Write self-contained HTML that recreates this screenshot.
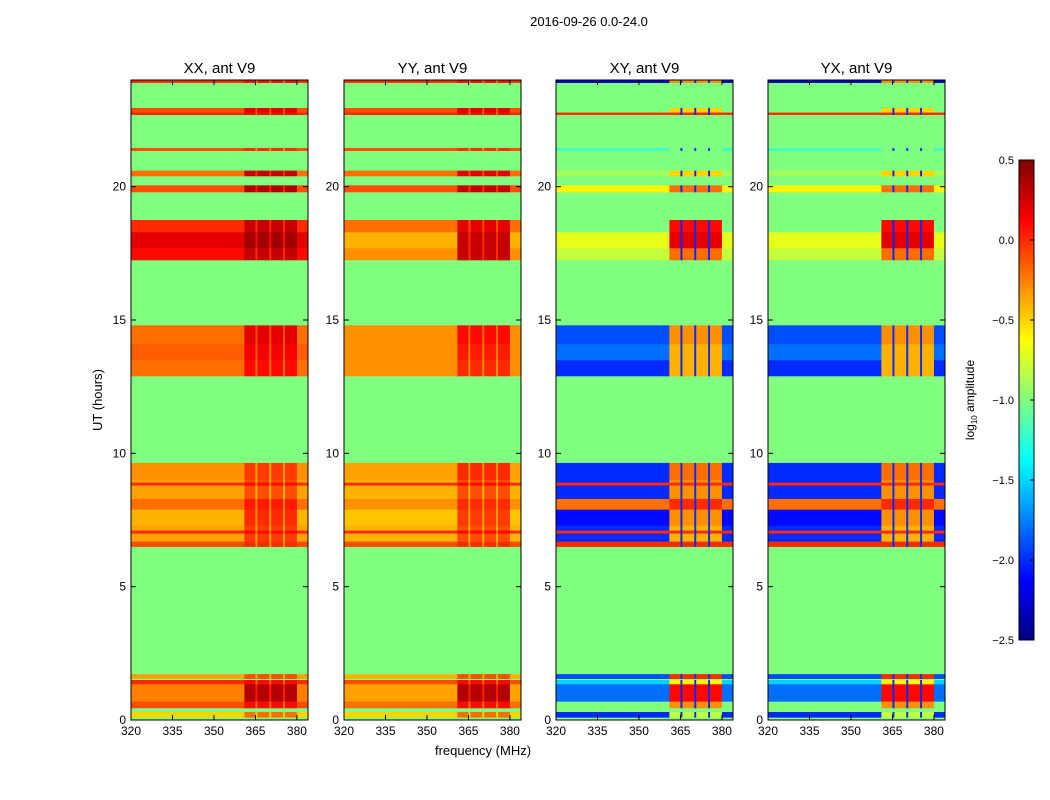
<!DOCTYPE html>
<html><head><meta charset="utf-8"><style>
body{margin:0;background:#fff;}
svg{display:block;font-family:"Liberation Sans",sans-serif;}
</style></head><body>
<svg id="fig" width="1050" height="800" viewBox="0 0 1050 800" xmlns="http://www.w3.org/2000/svg">
<rect width="1050" height="800" fill="#fff"/>
<text x="589" y="26" font-size="13" text-anchor="middle">2016-09-26 0.0-24.0</text>
<text x="102" y="400" font-size="13" text-anchor="middle" transform="rotate(-90 102 400)">UT (hours)</text>
<text x="483" y="755" font-size="13" text-anchor="middle">frequency (MHz)</text>
<g id="panels"></g>
<g id="cbar"></g>
</svg>
<script>
const bandStart=[0.1,0.45,0.7,1.35,1.55,6.5,6.7,7.3,7.9,8.3,9.0,12.9,13.5,14.1,17.25,17.7,18.3,19.8,20.4,21.35,22.78,23.9,22.7,7.0,8.8];
const bandEnd  =[0.3,0.7,1.35,1.5,1.72,6.7,7.3,7.9,8.3,9.0,9.64,13.5,14.1,14.8,17.7,18.3,18.75,20.05,20.6,21.45,22.95,23.98,22.78,7.1,8.9];
const xxLow =[-0.5,-0.1,-0.25,0,-0.35, -0.1,-0.35,-0.4,-0.2,-0.35,-0.3, -0.2,-0.15,-0.2, 0.1,0.2,0.0, -0.1,-0.2,-0.1,-0.1,0,0,0,0];
const xxHigh=[-0.2,0.1,0.35,0.1,-0.1, 0,-0.05,0,0.05,-0.1,-0.05, 0.1,0.15,0.2, 0.3,0.4,0.3, 0.35,0.3,0,0.2,0.1,0.1,0.1,0.1];
const yyLow =[-0.5,-0.2,-0.35,-0.1,-0.4, -0.1,-0.4,-0.45,-0.3,-0.4,-0.35, -0.3,-0.3,-0.3, -0.3,-0.4,-0.2, -0.1,-0.2,-0.1,-0.1,0,0,0,0];
const yyHigh=[-0.2,0.1,0.35,0.1,-0.1, 0,-0.1,-0.05,0,-0.1,0, 0,0.05,0.1, 0.3,0.3,0.2, 0.3,0.2,0,0.2,0.1,0.1,0.1,0.1];
const xyLow =[-2,-1.0,-1.8,-1.5,-1.9, 0,-2.0,-2.1,-0.2,-2.0,-2.0, -2.0,-1.8,-1.9, -0.8,-0.7,-1.0, -0.6,-0.9,-1.2,-1.0,-2.3,0,0,0];
const xyHigh=[-0.8,-0.3,0.1,-0.6,0, 0,-0.4,-0.3,0,-0.3,-0.2, -0.4,-0.4,-0.3, -0.2,0.2,0.1, -0.2,-0.5,-1.0,-0.5,-0.3,0,0,0];
const yxLow =[-2,-1.0,-1.8,-1.5,-1.9, 0,-2.0,-2.1,-0.2,-2.0,-2.0, -2.0,-1.8,-1.9, -0.8,-0.7,-1.0, -0.6,-0.9,-1.2,-1.0,-2.3,0,0,0];
const yxHigh=[-0.8,-0.3,0.1,-0.6,0, 0,-0.4,-0.3,0,-0.3,-0.2, -0.4,-0.4,-0.3, -0.2,0.2,0.1, -0.2,-0.5,-1.0,-0.5,-0.3,0,0,0];
const freqEdges=[320,361,365,365.7,370,370.7,375,375.7,380,384];
const segType=[0,1,2,1,2,1,2,1,0];
const panelTitles=["XX, ant V9","YY, ant V9","XY, ant V9","YX, ant V9"];
const altOffset=[-0.3,-0.3,null,null];
const altValue=[null,null,-2.0,-2.0];
const bgValue=-1.0;
const yTicks=[0,5,10,15,20];
const xTicks=[320,335,350,365,380];
const cbTicks=[0.5,0.0,-0.5,-1.0,-1.5,-2.0,-2.5];
const lows=[xxLow,yyLow,xyLow,yxLow], highs=[xxHigh,yyHigh,xyHigh,yxHigh];
const panelX=[131,344,556,768], PW=177, PT=80, PB=720;
const VMIN=-2.5, VMAX=0.5;
const NS="http://www.w3.org/2000/svg";
function jet(v){let t=Math.max(0,Math.min(1,(v-VMIN)/(VMAX-VMIN)));
 const c=x=>Math.round(255*Math.max(0,Math.min(1,x)));
 return `rgb(${c(1.5-Math.abs(4*t-3))},${c(1.5-Math.abs(4*t-2))},${c(1.5-Math.abs(4*t-1))})`;}
function el(tag,attrs,parent){const e=document.createElementNS(NS,tag);for(const k in attrs)e.setAttribute(k,attrs[k]);parent.appendChild(e);return e;}
const yS=t=>PB-(t/24)*(PB-PT);
const root=document.getElementById('panels');
panelX.forEach((px,p)=>{
 const xS=f=>px+(f-320)/64*PW;
 const g=el('g',{},root);
 
 
 const bg=el('rect',{x:px,y:PT,width:PW,height:PB-PT,fill:jet(bgValue)},g);
 
 
 for(let b=0;b<bandStart.length;b++){
  for(let s=0;s<segType.length;s++){
   let v;
   if(segType[s]===0)v=lows[p][b];
   else if(segType[s]===1)v=highs[p][b];
   else v=altValue[p]!==null?altValue[p]:highs[p][b]+altOffset[p];
   const r=el('rect',{x:xS(freqEdges[s]),y:yS(bandEnd[b]),width:xS(freqEdges[s+1])-xS(freqEdges[s])+0.3,height:yS(bandStart[b])-yS(bandEnd[b])+0.3,fill:jet(v)},g);
   
   
  }
 }
 el('rect',{x:px,y:PT,width:PW,height:PB-PT,fill:'none',stroke:'#000','stroke-width':1},g);
 const t=el('text',{x:px+PW/2,y:PT-7,'font-size':15,'text-anchor':'middle'},g);t.textContent=panelTitles[p];
 
 
 yTicks.forEach(v=>{const y=yS(v);
  el('line',{x1:px,x2:px+5,y1:y,y2:y,stroke:'#000'},g);el('line',{x1:px+PW,x2:px+PW-5,y1:y,y2:y,stroke:'#000'},g);
  const tx=el('text',{x:px-5,y:y+4,'font-size':12,'text-anchor':'end'},g);tx.textContent=v;
  
  });
 xTicks.forEach(v=>{const x=xS(v);
  el('line',{x1:x,x2:x,y1:PB,y2:PB-5,stroke:'#000'},g);el('line',{x1:x,x2:x,y1:PT,y2:PT+5,stroke:'#000'},g);
  const tx=el('text',{x:x,y:PB+15,'font-size':12,'text-anchor':'middle'},g);tx.textContent=v;
  
  });
});
const cb=document.getElementById('cbar');


const CX=1019,CW=15,CT=160,CB=640;
const cy=v=>CB-(v-VMIN)/(VMAX-VMIN)*(CB-CT);
for(let i=0;i<120;i++){const v0=VMIN+i*(VMAX-VMIN)/120,v1=VMIN+(i+1)*(VMAX-VMIN)/120;
 el('rect',{x:CX,y:cy(v1),width:CW,height:cy(v0)-cy(v1)+0.5,fill:jet((v0+v1)/2)},cb);}
el('rect',{x:CX,y:CT,width:CW,height:CB-CT,fill:'none',stroke:'#000'},cb);
cbTicks.forEach(v=>{const y=cy(v);el('line',{x1:CX+CW-4,x2:CX+CW,y1:y,y2:y,stroke:'#000'},cb);
 const tx=el('text',{x:CX-5,y:y+4,'font-size':11,'text-anchor':'end'},cb);tx.textContent=v.toFixed(1).replace('-','\u2212');
 
 });
const lab=el('text',{x:974,y:400,'font-size':12,'text-anchor':'middle',transform:'rotate(-90 974 400)'},cb);


lab.innerHTML='log<tspan font-size="8" dy="3">10</tspan><tspan dy="-3"> amplitude</tspan>';
</script>
</body></html>
